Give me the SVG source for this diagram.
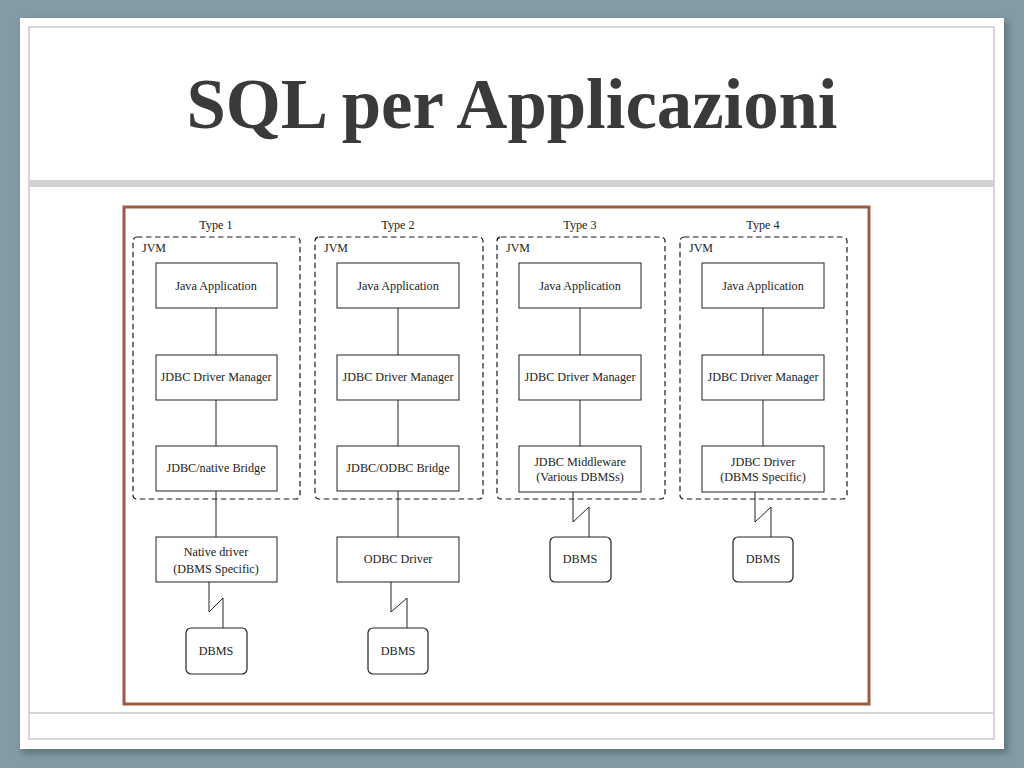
<svg xmlns="http://www.w3.org/2000/svg" width="1024" height="768" viewBox="0 0 1024 768">
<defs>
<filter id="sh" x="-5%" y="-5%" width="110%" height="110%"><feGaussianBlur stdDeviation="3"/></filter>
</defs>
<style>
.box{fill:#fff;stroke:#222;stroke-width:1}
.db{fill:#fff;stroke:#222;stroke-width:1.2}
.jvm{fill:none;stroke:#1a1a1a;stroke-width:1.2;stroke-dasharray:5.5,3.5}
.ln{fill:none;stroke:#222;stroke-width:1}
.t{font-family:"Liberation Serif","Times New Roman",serif;font-size:12.2px;fill:#222;text-anchor:middle}
.l{font-family:"Liberation Serif","Times New Roman",serif;font-size:12px;fill:#222}
</style>
<rect x="0" y="0" width="1024" height="768" fill="#829ba4"/>
<rect x="22" y="21" width="986" height="733" fill="#4d5f66" opacity="0.6" filter="url(#sh)"/>
<rect x="20" y="18" width="984" height="731" fill="#ffffff"/>
<rect x="29" y="27" width="965" height="712" fill="none" stroke="#cbc7c3" stroke-width="1.5"/>
<rect x="29" y="180" width="965" height="7" fill="#cfd3d6"/>
<line x1="29" y1="713" x2="994" y2="713" stroke="#cbc7c3" stroke-width="1.5"/>
<text x="512" y="128" font-family="Liberation Serif,'Times New Roman',serif" font-size="72" font-weight="bold" fill="#3a3a3a" text-anchor="middle" textLength="651" lengthAdjust="spacingAndGlyphs">SQL per Applicazioni</text>
<rect x="124" y="207" width="745" height="497" fill="#fff" stroke="#9c5a40" stroke-width="3"/>

<g id="connectors">
<path class="ln" d="M216 308V355M216 400V446M216 491V537M209 582V612L223 598V628"/>
<path class="ln" d="M398 308V355M398 400V446M398 491V537M391 582V612L407 598V628"/>
<path class="ln" d="M580 308V355M580 400V446M573 492V522L589 507V537"/>
<path class="ln" d="M763 308V355M763 400V446M755 492V522L771 507V537"/>
</g>

<g id="type1">
<text class="t" x="216" y="229">Type 1</text>
<rect class="jvm" x="133" y="237" width="167" height="262" rx="4"/>
<text class="l" x="142" y="252">JVM</text>
<g id="t1-app"><rect class="box" x="156" y="263" width="121" height="45"/><text class="t" x="216" y="290">Java Application</text></g>
<g id="t1-dm"><rect class="box" x="156" y="355" width="121" height="45"/><text class="t" x="216" y="381">JDBC Driver Manager</text></g>
<g id="t1-bridge"><rect class="box" x="156" y="446" width="121" height="45"/><text class="t" x="216" y="472">JDBC/native Bridge</text></g>
<g id="t1-native"><rect class="box" x="156" y="537" width="121" height="45"/><text class="t" x="216" y="556">Native driver</text><text class="t" x="216" y="573">(DBMS Specific)</text></g>
<g id="t1-dbms"><rect class="db" x="186" y="628" width="61" height="46" rx="5"/><text class="t" x="216" y="655">DBMS</text></g>
</g>

<g id="type2">
<text class="t" x="398" y="229">Type 2</text>
<rect class="jvm" x="315" y="237" width="168" height="262" rx="4"/>
<text class="l" x="324" y="252">JVM</text>
<g id="t2-app"><rect class="box" x="337" y="263" width="122" height="45"/><text class="t" x="398" y="290">Java Application</text></g>
<g id="t2-dm"><rect class="box" x="337" y="355" width="122" height="45"/><text class="t" x="398" y="381">JDBC Driver Manager</text></g>
<g id="t2-bridge"><rect class="box" x="337" y="446" width="122" height="45"/><text class="t" x="398" y="472">JDBC/ODBC Bridge</text></g>
<g id="t2-odbc"><rect class="box" x="337" y="537" width="122" height="45"/><text class="t" x="398" y="563">ODBC Driver</text></g>
<g id="t2-dbms"><rect class="db" x="368" y="628" width="60" height="46" rx="5"/><text class="t" x="398" y="655">DBMS</text></g>
</g>

<g id="type3">
<text class="t" x="580" y="229">Type 3</text>
<rect class="jvm" x="497" y="237" width="168" height="262" rx="4"/>
<text class="l" x="506" y="252">JVM</text>
<g id="t3-app"><rect class="box" x="519" y="263" width="122" height="45"/><text class="t" x="580" y="290">Java Application</text></g>
<g id="t3-dm"><rect class="box" x="519" y="355" width="122" height="45"/><text class="t" x="580" y="381">JDBC Driver Manager</text></g>
<g id="t3-mw"><rect class="box" x="519" y="446" width="122" height="46"/><text class="t" x="580" y="466">JDBC Middleware</text><text class="t" x="580" y="481">(Various DBMSs)</text></g>
<g id="t3-dbms"><rect class="db" x="550" y="537" width="61" height="45" rx="5"/><text class="t" x="580" y="563">DBMS</text></g>
</g>

<g id="type4">
<text class="t" x="763" y="229">Type 4</text>
<rect class="jvm" x="680" y="237" width="167" height="262" rx="4"/>
<text class="l" x="689" y="252">JVM</text>
<g id="t4-app"><rect class="box" x="702" y="263" width="122" height="45"/><text class="t" x="763" y="290">Java Application</text></g>
<g id="t4-dm"><rect class="box" x="702" y="355" width="122" height="45"/><text class="t" x="763" y="381">JDBC Driver Manager</text></g>
<g id="t4-drv"><rect class="box" x="702" y="446" width="122" height="46"/><text class="t" x="763" y="466">JDBC Driver</text><text class="t" x="763" y="481">(DBMS Specific)</text></g>
<g id="t4-dbms"><rect class="db" x="733" y="537" width="60" height="45" rx="5"/><text class="t" x="763" y="563">DBMS</text></g>
</g>
</svg>
